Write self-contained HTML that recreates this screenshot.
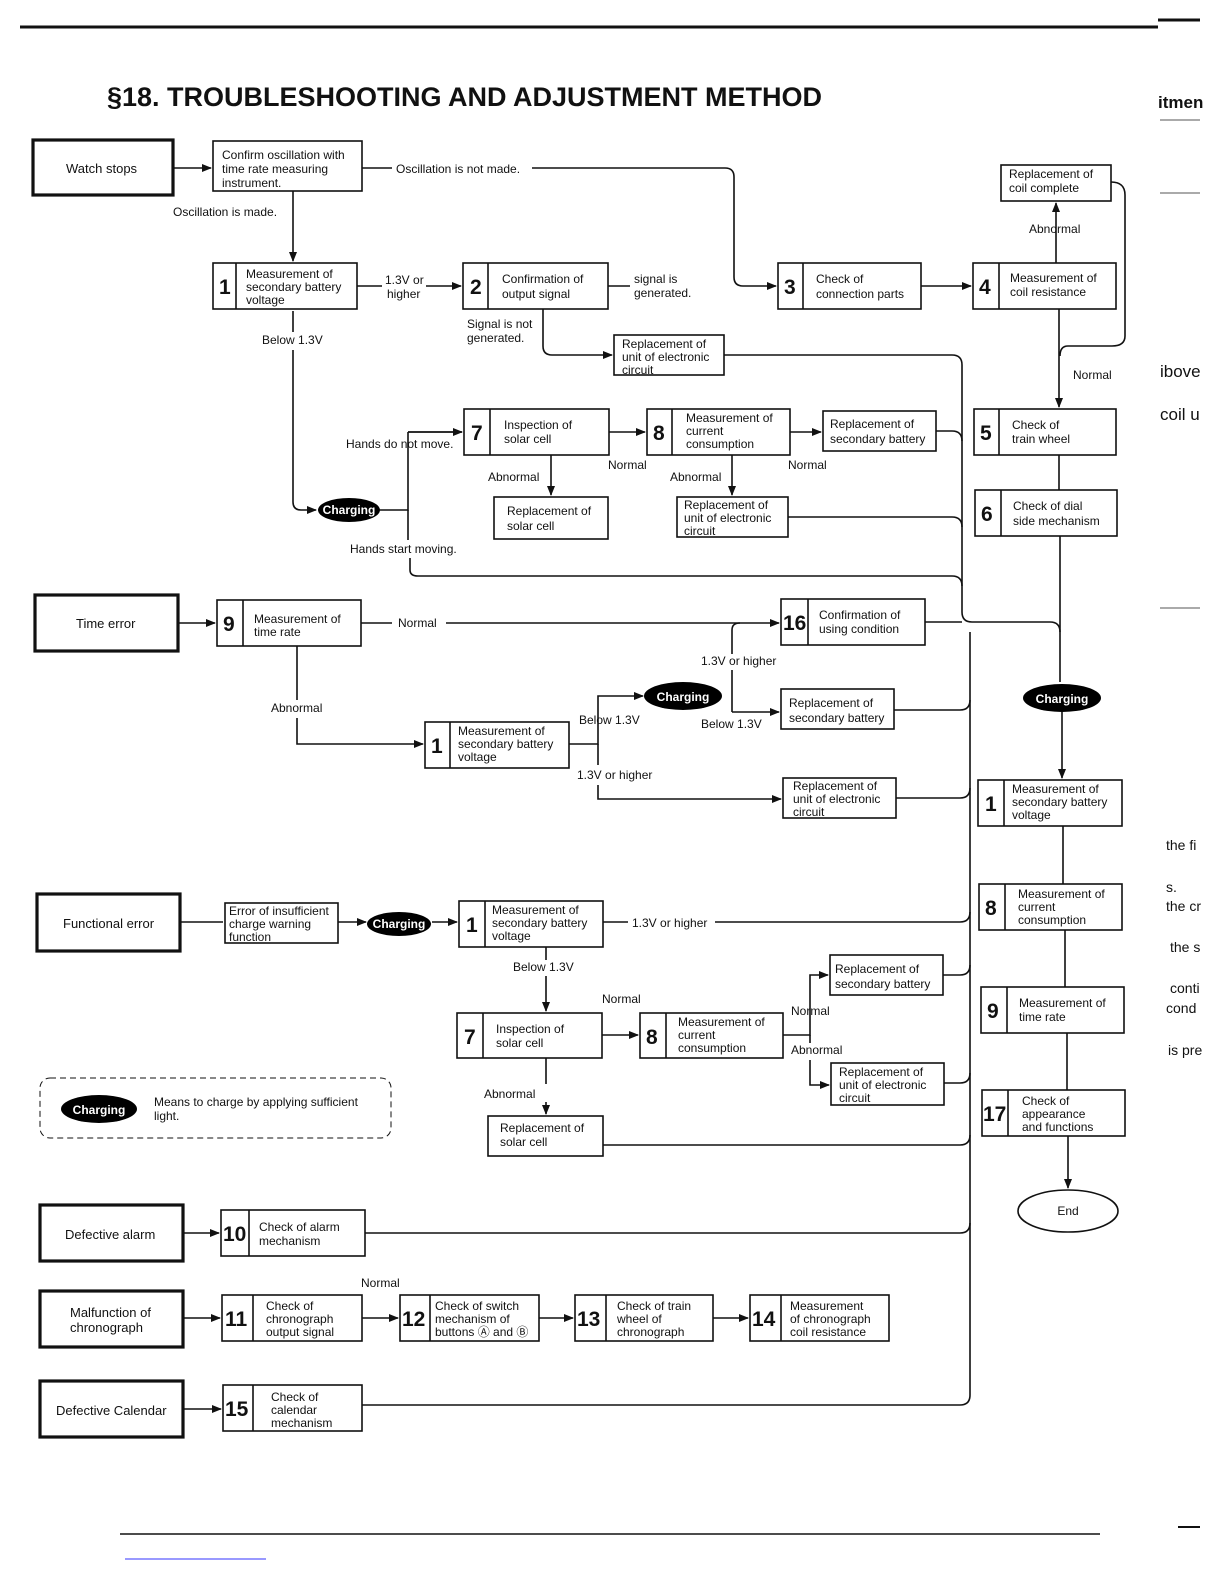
<!DOCTYPE html>
<html><head><meta charset="utf-8"><style>
html,body{margin:0;padding:0;background:#fff}
svg{display:block;font-family:"Liberation Sans",sans-serif}
text{font-size:12px;fill:#111}
.n{font-size:21px;font-weight:bold}
.b{fill:#fff;stroke:#111;stroke-width:1.6}
.tb{fill:#fff;stroke:#111;stroke-width:3.2}
.l{fill:none;stroke:#111;stroke-width:1.6}
.c{font-size:12px;font-weight:bold;fill:#fff}
</style></head><body>
<svg width="1224" height="1584" viewBox="0 0 1224 1584">
<defs><marker id="a" markerWidth="10" markerHeight="8" refX="9" refY="4" orient="auto" markerUnits="userSpaceOnUse"><path d="M0,0 L10,4 L0,8z" fill="#111"/></marker></defs>
<line x1="20" y1="27" x2="1158" y2="27" stroke="#111" stroke-width="3"/>
<line x1="1158" y1="20" x2="1200" y2="20" stroke="#111" stroke-width="3"/>
<line x1="120" y1="1534" x2="1100" y2="1534" stroke="#111" stroke-width="1.5"/>
<line x1="1178" y1="1527" x2="1200" y2="1527" stroke="#111" stroke-width="2"/>
<line x1="125" y1="1559" x2="266" y2="1559" stroke="#33f" stroke-width="1"/>
<line x1="1160" y1="120" x2="1200" y2="120" stroke="#555" stroke-width="1"/>
<line x1="1160" y1="193" x2="1200" y2="193" stroke="#555" stroke-width="1"/>
<line x1="1160" y1="608" x2="1200" y2="608" stroke="#555" stroke-width="1"/>
<text x="1158" y="108" style="font-size:17px;font-weight:bold">itmen</text>
<text x="1160" y="377" style="font-size:17px">ibove</text>
<text x="1160" y="420" style="font-size:17px">coil u</text>
<text x="1166" y="850" style="font-size:14px">the fi</text>
<text x="1166" y="892" style="font-size:14px">s.</text>
<text x="1166" y="911" style="font-size:14px">the cr</text>
<text x="1170" y="952" style="font-size:14px">the s</text>
<text x="1170" y="993" style="font-size:14px">conti</text>
<text x="1166" y="1013" style="font-size:14px">cond</text>
<text x="1168" y="1055" style="font-size:14px">is pre</text>
<text x="107" y="106" style="font-size:27px;font-weight:bold">§18.  TROUBLESHOOTING AND ADJUSTMENT METHOD</text>

<!-- connectors -->
<g class="l">
<path d="M173,168 H211" marker-end="url(#a)"/>
<path d="M362,168 H392 M532,168 H725 Q734,168 734,177 V277 Q734,286 743,286 H776" marker-end="url(#a)"/>
<path d="M293,191 V261" marker-end="url(#a)"/>
<path d="M357,286 H382 M426,286 H461" marker-end="url(#a)"/>
<path d="M608,286 H630"/>
<path d="M921,286 H971" marker-end="url(#a)"/>
<path d="M1056,263 V203" marker-end="url(#a)"/>
<path d="M1111,182 Q1125,182 1125,195 V336 Q1125,346 1112,346 H1068 Q1060,346 1060,356"/>
<path d="M1059,309 V407" marker-end="url(#a)"/>
<path d="M1059,455 V490 M1060,536 V682"/>
<path d="M543,309 V346 Q543,355 552,355 H612" marker-end="url(#a)"/>
<path d="M724,355 H952 Q962,355 962,365 V612 Q962,622 972,622 H1050 Q1060,622 1060,632"/>
<path d="M293,311 V332 M293,350 V502 Q293,510 301,510 H316" marker-end="url(#a)"/>
<path d="M380,510 H408 V455 M408,438 H408 M408,432 H462 M408,455 V432" />
<path d="M408,432 H462" marker-end="url(#a)"/>
<path d="M408,510 V540 M410,558 V570 Q410,576 418,576 H952 Q962,576 962,586"/>
<path d="M551,455 V495" marker-end="url(#a)"/>
<path d="M609,432 H645" marker-end="url(#a)"/>
<path d="M790,432 H821" marker-end="url(#a)"/>
<path d="M732,455 V495" marker-end="url(#a)"/>
<path d="M936,431 H952 Q962,431 962,441"/>
<path d="M788,517 H952 Q962,517 962,527"/>
<path d="M178,623 H215" marker-end="url(#a)"/>
<path d="M361,623 H392 M446,623 H779" marker-end="url(#a)"/>
<path d="M925,622 H962"/>
<path d="M297,646 V700 M297,718 V744 H423" marker-end="url(#a)"/>
<path d="M569,744 H598 V696 H643" marker-end="url(#a)"/>
<path d="M598,744 V765 M598,785 V799 H781" marker-end="url(#a)"/>
<path d="M732,654 V630 Q732,623 740,623"/>
<path d="M732,670 V712 M732,712 H779" marker-end="url(#a)"/>
<path d="M894,710 H960 Q970,710 970,700"/>
<path d="M896,798 H960 Q970,798 970,788"/>
<path d="M970,632 V1395 Q970,1405 960,1405 H362"/>
<path d="M1062,712 V778" marker-end="url(#a)"/>
<path d="M1063,826 V884 M1065,930 V987 M1067,1033 V1090"/>
<path d="M1068,1136 V1188" marker-end="url(#a)"/>
<path d="M180,922 H223 M338,922 H366" marker-end="url(#a)"/>
<path d="M432,922 H457" marker-end="url(#a)"/>
<path d="M603,922 H628 M715,922 H960 Q970,922 970,912"/>
<path d="M546,946 V960 M546,976 V1011" marker-end="url(#a)"/>
<path d="M602,1035 H638" marker-end="url(#a)"/>
<path d="M783,1035 H810 V1005 M810,1020 V975 H828" marker-end="url(#a)"/>
<path d="M810,1035 V1043 M810,1060 V1085 H829" marker-end="url(#a)"/>
<path d="M943,975 H960 Q970,975 970,965"/>
<path d="M944,1083 H960 Q970,1083 970,1073"/>
<path d="M546,1058 V1084 M546,1102 V1114" marker-end="url(#a)"/>
<path d="M603,1145 H960 Q970,1145 970,1135"/>
<path d="M183,1233 H219" marker-end="url(#a)"/>
<path d="M365,1233 H960 Q970,1233 970,1223"/>
<path d="M183,1318 H220" marker-end="url(#a)"/>
<path d="M362,1318 H398" marker-end="url(#a)"/>
<path d="M539,1318 H573" marker-end="url(#a)"/>
<path d="M713,1318 H748" marker-end="url(#a)"/>
<path d="M183,1409 H221" marker-end="url(#a)"/>
</g>

<!-- thick boxes -->
<rect class="tb" x="33" y="140" width="140" height="55"/><text x="66" y="173" style="font-size:13px">Watch stops</text>
<rect class="tb" x="35" y="595" width="143" height="56"/><text x="76" y="628" style="font-size:13px">Time error</text>
<rect class="tb" x="37" y="894" width="143" height="57"/><text x="63" y="928" style="font-size:13px">Functional error</text>
<rect class="tb" x="40" y="1205" width="143" height="56"/><text x="65" y="1239" style="font-size:13px">Defective alarm</text>
<rect class="tb" x="40" y="1291" width="143" height="56"/><text x="70" y="1317" style="font-size:13px">Malfunction of</text><text x="70" y="1332" style="font-size:13px">chronograph</text>
<rect class="tb" x="40" y="1381" width="143" height="56"/><text x="56" y="1415" style="font-size:13px">Defective Calendar</text>

<!-- plain boxes -->
<g>
<rect class="b" x="213" y="141" width="149" height="50"/><text x="222" y="159">Confirm oscillation with</text><text x="222" y="173">time rate measuring</text><text x="222" y="187">instrument.</text>
<rect class="b" x="1001" y="165" width="110" height="36"/><text x="1009" y="178">Replacement of</text><text x="1009" y="192">coil complete</text>
<rect class="b" x="614" y="335" width="110" height="40"/><text x="622" y="348">Replacement of</text><text x="622" y="361">unit of electronic</text><text x="622" y="374">circuit</text>
<rect class="b" x="823" y="411" width="113" height="40"/><text x="830" y="428">Replacement of</text><text x="830" y="443">secondary battery</text>
<rect class="b" x="494" y="497" width="114" height="42"/><text x="507" y="515">Replacement of</text><text x="507" y="530">solar cell</text>
<rect class="b" x="677" y="497" width="111" height="40"/><text x="684" y="509">Replacement of</text><text x="684" y="522">unit of electronic</text><text x="684" y="535">circuit</text>
<rect class="b" x="781" y="689" width="113" height="40"/><text x="789" y="707">Replacement of</text><text x="789" y="722">secondary battery</text>
<rect class="b" x="783" y="778" width="113" height="40"/><text x="793" y="790">Replacement of</text><text x="793" y="803">unit of electronic</text><text x="793" y="816">circuit</text>
<rect class="b" x="225" y="903" width="113" height="40"/><text x="229" y="915">Error of insufficient</text><text x="229" y="928">charge warning</text><text x="229" y="941">function</text>
<rect class="b" x="830" y="955" width="113" height="40"/><text x="835" y="973">Replacement of</text><text x="835" y="988">secondary battery</text>
<rect class="b" x="831" y="1063" width="113" height="42"/><text x="839" y="1076">Replacement of</text><text x="839" y="1089">unit of electronic</text><text x="839" y="1102">circuit</text>
<rect class="b" x="488" y="1116" width="115" height="40"/><text x="500" y="1132">Replacement of</text><text x="500" y="1146">solar cell</text>
</g>

<!-- numbered boxes -->
<g>
<rect class="b" x="213" y="263" width="144" height="46"/><line class="l" x1="236" y1="263" x2="236" y2="309"/><text class="n" x="219" y="294">1</text><text x="246" y="278">Measurement of</text><text x="246" y="291">secondary battery</text><text x="246" y="304">voltage</text>
<rect class="b" x="463" y="263" width="145" height="46"/><line class="l" x1="488" y1="263" x2="488" y2="309"/><text class="n" x="470" y="294">2</text><text x="502" y="283">Confirmation of</text><text x="502" y="298">output signal</text>
<rect class="b" x="778" y="263" width="143" height="46"/><line class="l" x1="803" y1="263" x2="803" y2="309"/><text class="n" x="784" y="294">3</text><text x="816" y="283">Check of</text><text x="816" y="298">connection parts</text>
<rect class="b" x="973" y="263" width="143" height="46"/><line class="l" x1="999" y1="263" x2="999" y2="309"/><text class="n" x="979" y="294">4</text><text x="1010" y="282">Measurement of</text><text x="1010" y="296">coil resistance</text>
<rect class="b" x="464" y="409" width="145" height="46"/><line class="l" x1="490" y1="409" x2="490" y2="455"/><text class="n" x="471" y="440">7</text><text x="504" y="429">Inspection of</text><text x="504" y="443">solar cell</text>
<rect class="b" x="647" y="409" width="143" height="46"/><line class="l" x1="672" y1="409" x2="672" y2="455"/><text class="n" x="653" y="440">8</text><text x="686" y="422">Measurement of</text><text x="686" y="435">current</text><text x="686" y="448">consumption</text>
<rect class="b" x="974" y="409" width="142" height="46"/><line class="l" x1="999" y1="409" x2="999" y2="455"/><text class="n" x="980" y="440">5</text><text x="1012" y="429">Check of</text><text x="1012" y="443">train wheel</text>
<rect class="b" x="975" y="490" width="142" height="46"/><line class="l" x1="1001" y1="490" x2="1001" y2="536"/><text class="n" x="981" y="521">6</text><text x="1013" y="510">Check of dial</text><text x="1013" y="525">side mechanism</text>
<rect class="b" x="217" y="600" width="144" height="46"/><line class="l" x1="243" y1="600" x2="243" y2="646"/><text class="n" x="223" y="631">9</text><text x="254" y="623">Measurement of</text><text x="254" y="636">time rate</text>
<rect class="b" x="781" y="599" width="144" height="46"/><line class="l" x1="808" y1="599" x2="808" y2="645"/><text class="n" x="783" y="630">16</text><text x="819" y="619">Confirmation of</text><text x="819" y="633">using condition</text>
<rect class="b" x="425" y="722" width="144" height="46"/><line class="l" x1="450" y1="722" x2="450" y2="768"/><text class="n" x="431" y="753">1</text><text x="458" y="735">Measurement of</text><text x="458" y="748">secondary battery</text><text x="458" y="761">voltage</text>
<rect class="b" x="978" y="780" width="144" height="46"/><line class="l" x1="1004" y1="780" x2="1004" y2="826"/><text class="n" x="985" y="811">1</text><text x="1012" y="793">Measurement of</text><text x="1012" y="806">secondary battery</text><text x="1012" y="819">voltage</text>
<rect class="b" x="979" y="884" width="143" height="46"/><line class="l" x1="1005" y1="884" x2="1005" y2="930"/><text class="n" x="985" y="915">8</text><text x="1018" y="898">Measurement of</text><text x="1018" y="911">current</text><text x="1018" y="924">consumption</text>
<rect class="b" x="981" y="987" width="143" height="46"/><line class="l" x1="1007" y1="987" x2="1007" y2="1033"/><text class="n" x="987" y="1018">9</text><text x="1019" y="1007">Measurement of</text><text x="1019" y="1021">time rate</text>
<rect class="b" x="982" y="1090" width="143" height="46"/><line class="l" x1="1008" y1="1090" x2="1008" y2="1136"/><text class="n" x="983" y="1121">17</text><text x="1022" y="1105">Check of</text><text x="1022" y="1118">appearance</text><text x="1022" y="1131">and functions</text>
<rect class="b" x="459" y="901" width="144" height="46"/><line class="l" x1="485" y1="901" x2="485" y2="947"/><text class="n" x="466" y="932">1</text><text x="492" y="914">Measurement of</text><text x="492" y="927">secondary battery</text><text x="492" y="940">voltage</text>
<rect class="b" x="457" y="1013" width="145" height="45"/><line class="l" x1="483" y1="1013" x2="483" y2="1058"/><text class="n" x="464" y="1044">7</text><text x="496" y="1033">Inspection of</text><text x="496" y="1047">solar cell</text>
<rect class="b" x="640" y="1013" width="143" height="45"/><line class="l" x1="666" y1="1013" x2="666" y2="1058"/><text class="n" x="646" y="1044">8</text><text x="678" y="1026">Measurement of</text><text x="678" y="1039">current</text><text x="678" y="1052">consumption</text>
<rect class="b" x="221" y="1210" width="144" height="46"/><line class="l" x1="249" y1="1210" x2="249" y2="1256"/><text class="n" x="223" y="1241">10</text><text x="259" y="1231">Check of alarm</text><text x="259" y="1245">mechanism</text>
<rect class="b" x="222" y="1295" width="140" height="46"/><line class="l" x1="253" y1="1295" x2="253" y2="1341"/><text class="n" x="225" y="1326">11</text><text x="266" y="1310">Check of</text><text x="266" y="1323">chronograph</text><text x="266" y="1336">output signal</text>
<rect class="b" x="400" y="1295" width="139" height="46"/><line class="l" x1="430" y1="1295" x2="430" y2="1341"/><text class="n" x="402" y="1326">12</text><text x="435" y="1310">Check of switch</text><text x="435" y="1323">mechanism of</text><text x="435" y="1336">buttons Ⓐ and Ⓑ</text>
<rect class="b" x="575" y="1295" width="138" height="46"/><line class="l" x1="606" y1="1295" x2="606" y2="1341"/><text class="n" x="577" y="1326">13</text><text x="617" y="1310">Check of train</text><text x="617" y="1323">wheel of</text><text x="617" y="1336">chronograph</text>
<rect class="b" x="750" y="1295" width="139" height="46"/><line class="l" x1="781" y1="1295" x2="781" y2="1341"/><text class="n" x="752" y="1326">14</text><text x="790" y="1310">Measurement</text><text x="790" y="1323">of chronograph</text><text x="790" y="1336">coil resistance</text>
<rect class="b" x="223" y="1385" width="139" height="46"/><line class="l" x1="253" y1="1385" x2="253" y2="1431"/><text class="n" x="225" y="1416">15</text><text x="271" y="1401">Check of</text><text x="271" y="1414">calendar</text><text x="271" y="1427">mechanism</text>
</g>

<!-- charging ovals -->
<ellipse cx="349" cy="510" rx="31" ry="12"/><text class="c" x="349" y="514" text-anchor="middle">Charging</text>
<ellipse cx="683" cy="696" rx="39" ry="14"/><text class="c" x="683" y="701" text-anchor="middle">Charging</text>
<ellipse cx="1062" cy="698" rx="39" ry="14"/><text class="c" x="1062" y="703" text-anchor="middle">Charging</text>
<ellipse cx="399" cy="924" rx="32" ry="12"/><text class="c" x="399" y="928" text-anchor="middle">Charging</text>
<ellipse cx="99" cy="1109" rx="38" ry="14"/><text class="c" x="99" y="1114" text-anchor="middle">Charging</text>
<ellipse cx="1068" cy="1211" rx="50" ry="21" fill="#fff" stroke="#111" stroke-width="1.6"/><text x="1068" y="1215" text-anchor="middle">End</text>
<rect x="40" y="1078" width="351" height="60" rx="10" fill="none" stroke="#111" stroke-width="1" stroke-dasharray="6,4"/>
<text x="154" y="1106">Means to charge by applying sufficient</text><text x="154" y="1120">light.</text>

<!-- labels -->
<g>
<text x="396" y="173">Oscillation is not made.</text>
<text x="173" y="216">Oscillation is made.</text>
<text x="385" y="284">1.3V or</text><text x="387" y="298">higher</text>
<text x="634" y="283">signal is</text><text x="634" y="297">generated.</text>
<text x="1029" y="233">Abnormal</text>
<text x="262" y="344">Below 1.3V</text>
<text x="467" y="328">Signal is not</text><text x="467" y="342">generated.</text>
<text x="1073" y="379">Normal</text>
<text x="346" y="448">Hands do not move.</text>
<text x="488" y="481">Abnormal</text>
<text x="608" y="469">Normal</text>
<text x="670" y="481">Abnormal</text>
<text x="788" y="469">Normal</text>
<text x="350" y="553">Hands start moving.</text>
<text x="398" y="627">Normal</text>
<text x="701" y="665">1.3V or higher</text>
<text x="271" y="712">Abnormal</text>
<text x="579" y="724">Below 1.3V</text>
<text x="701" y="728">Below 1.3V</text>
<text x="577" y="779">1.3V or higher</text>
<text x="632" y="927">1.3V or higher</text>
<text x="513" y="971">Below 1.3V</text>
<text x="602" y="1003">Normal</text>
<text x="791" y="1015">Normal</text>
<text x="791" y="1054">Abnormal</text>
<text x="484" y="1098">Abnormal</text>
<text x="361" y="1287">Normal</text>
</g>
</svg>
</body></html>
